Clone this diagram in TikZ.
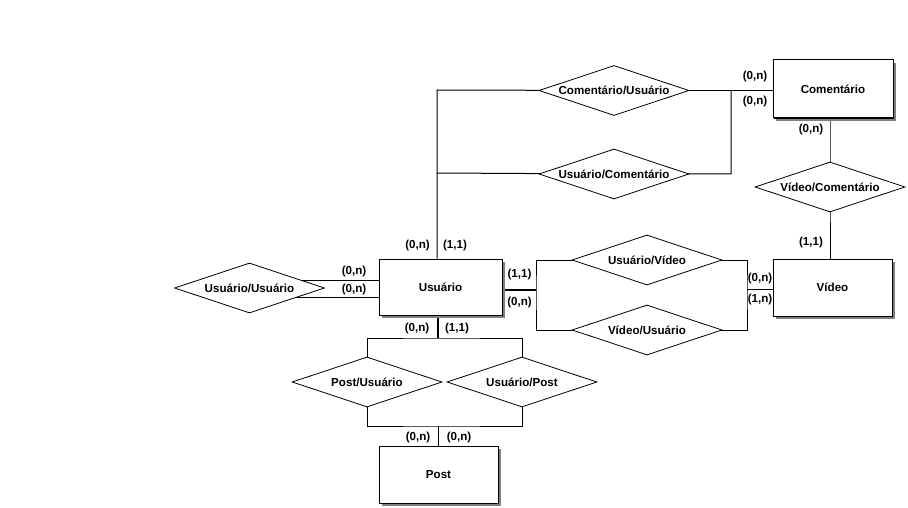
\documentclass[tikz,border=0pt]{standalone}
\usepackage{fontspec}
\setmainfont{Liberation Sans}
\usetikzlibrary{shapes.geometric,shadows}
\pgfdeclarelayer{background}
\pgfsetlayers{background,main}
\begin{document}
\begin{tikzpicture}[x=1pt,y=-1pt,
  every node/.style={font=\fontsize{11.6}{13}\selectfont\bfseries},
  entity/.style={rectangle, draw, fill=white, line width=1pt, inner sep=0pt,
    general shadow={fill=gray, shadow xshift=3pt, shadow yshift=-3pt},
    general shadow={fill=black, shadow xshift=1pt, shadow yshift=-1pt}},
  relation/.style={diamond, draw, fill=white, line width=0.8pt, inner sep=0pt,
    aspect=3, minimum width=150pt, minimum height=50pt},
  card/.style={inner sep=0pt},
  link/.style={line width=1pt},
  strong/.style={line width=2pt}]
\useasboundingbox (0,0) rectangle (908,508);

% entities
\node[entity, minimum width=120pt, minimum height=58pt] (com) at (833,89) {Comentário};
\node[entity, minimum width=123pt, minimum height=56pt] (usu) at (440.5,287) {Usuário};
\node[entity, minimum width=119pt, minimum height=57pt] (vid) at (832.5,287.5) {Vídeo};
\node[entity, minimum width=119pt, minimum height=57pt] (post) at (438.5,474.5) {Post};

% relationships
\node[relation] (cu) at (614,90.5) {Comentário/Usuário};
\node[relation] (uc) at (614,174) {Usuário/Comentário};
\node[relation] (vc) at (830,187) {Vídeo/Comentário};
\node[relation] (uu) at (249.5,288) {Usuário/Usuário};
\node[relation] (uv) at (647,260) {Usuário/Vídeo};
\node[relation] (vu) at (647,330) {Vídeo/Usuário};
\node[relation] (pu) at (367,382) {Post/Usuário};
\node[relation] (up) at (522,382) {Usuário/Post};

% junction points
\coordinate (jTop) at (437,90);
\coordinate (jMid) at (437,173);
\coordinate (jR) at (731,90);
\coordinate (jUa) at (300,280);
\coordinate (jUb) at (300,297);
\coordinate (jL) at (536,290);
\coordinate (jV) at (747,289);
\coordinate (jB1) at (438,338);
\coordinate (jB2) at (438,426);

\begin{pgfonlayer}{background}
  % Usuário -- Comentário
  \draw[link] (usu.north -| jTop) -- (jTop) -- (cu.center);
  \draw[link] (cu.center) -- (com.west |- cu.center);
  \draw[link] (jMid) -- (uc.center) -| (jR);
  % Comentário -- Vídeo
  \draw[link] (com.south -| vc.center) -- (vc.center) -- (vid.north -| vc.center);
  % Usuário -- Usuário
  \draw[link] (uu.center |- jUa) -- (usu.west |- jUa);
  \draw[link] (uu.center |- jUb) -- (usu.west |- jUb);
  % Usuário -- Vídeo
  \draw[strong] (usu.east |- jL) -- (jL);
  \draw[link] (uv.center) -| (jL) |- (vu.center);
  \draw[link] (uv.center) -| (jV) |- (vu.center);
  \draw[link] (jV) -- (vid.west |- jV);
  % Usuário -- Post
  \draw[strong] (usu.south -| jB1) -- (jB1);
  \draw[link] (pu.center) |- (jB1) -| (up.center);
  \draw[link] (pu.center) |- (jB2) -| (up.center);
  \draw[link] (jB2) -- (post.north -| jB2);
\end{pgfonlayer}

% cardinalities
\node[card] (c1) at (755,77) {(0,n)};
\node[card] (c2) at (755,102) {(0,n)};
\node[card] (c3) at (811,130) {(0,n)};
\node[card] (c4) at (811,243) {(1,1)};
\node[card] (c5) at (417.5,246) {(0,n)};
\node[card] (c6) at (455,246) {(1,1)};
\node[card] (c7) at (354,272) {(0,n)};
\node[card] (c8) at (354,289) {(0,n)};
\node[card] (c9) at (519.5,274) {(1,1)};
\node[card] (c10) at (519.5,302) {(0,n)};
\node[card] (c11) at (417,328) {(0,n)};
\node[card] (c12) at (457,328) {(1,1)};
\node[card] (c13) at (760,278) {(0,n)};
\node[card] (c14) at (760,299) {(1,n)};
\node[card] (c15) at (418,437) {(0,n)};
\node[card] (c16) at (459,437) {(0,n)};
\end{tikzpicture}
\end{document}
